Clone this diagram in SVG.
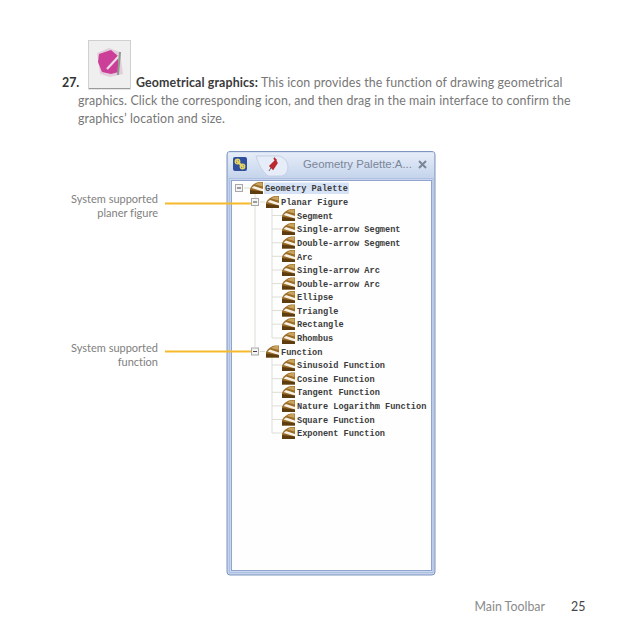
<svg xmlns="http://www.w3.org/2000/svg" width="638" height="638" viewBox="0 0 638 638">
<style>
.b{font-family:"Lato","Open Sans",sans-serif;font-size:12.4px;letter-spacing:.12px;fill:#777;font-variant-ligatures:none}
.s{font-family:"Lato","Open Sans",sans-serif;font-size:11px;fill:#808080;font-variant-ligatures:none}
.t{font-family:"Liberation Mono",monospace;font-size:8.65px;font-weight:700;fill:#3c3c3c;stroke:none}
.tl{stroke:#dcdcd4;stroke-width:1;fill:none}
.lead{stroke:#f5b92c;stroke-width:2;fill:none}
.box{fill:#f4f4f4;stroke:#a8a8a8;stroke-width:1}
.m{stroke:#444;stroke-width:1}
</style>
<defs>
<linearGradient id="head" x1="0" y1="0" x2="0" y2="1"><stop offset="0" stop-color="#e6edf8"/><stop offset="1" stop-color="#c5d4ec"/></linearGradient>
<g id="ic">
<path d="M0 12V6.500Q3 1 9 0H13V12Z" fill="#9a6c28"/>
<path d="M5 2.500Q7 1 9.500 .5H12.500V4.500Z" fill="#c9a45e"/>
<path d="M1.500 6L4 4L13 7V9.500Z" fill="#f8f2e6"/>
<path d="M0 12V8L13 9.500V12Z" fill="#5d3c10"/>
</g>
</defs>
<rect width="638" height="638" fill="#fff"/>

<g id="tool-icon">
<rect x="88.500" y="40.500" width="42" height="48.500" fill="#efefef" stroke="#d0d0d0"/>
<path d="M89 88.500H130" stroke="#9a9a9a" stroke-width="1.200"/>
<path d="M97 53L109 48L120 52L123 74L110 77L100 74Z" fill="#e3cfdc"/>
<path d="M99 54L111 50L118 56L119 72L111 74L102 72L98 62Z" fill="#cc3f98"/>
<path d="M107 69L119 56" stroke="#ecdce6" stroke-width="2.200"/>
<path d="M120 52L118 75" stroke="#8d9a8d" stroke-width="2"/>
</g>

<g id="body-text">
<text x="62" y="87" style="font-family:Lato,sans-serif;font-size:12.4px;font-weight:700;fill:#333">27.</text>
<text x="136" y="87" class="b"><tspan style="font-weight:700;fill:#3a3a3a">Geometrical graphics:</tspan> This icon provides the function of drawing geometrical</text>
<text x="78" y="105" class="b">graphics. Click the corresponding icon, and then drag in the main interface to confirm the</text>
<text x="78" y="123" class="b">graphics’ location and size.</text>
</g>

<g id="palette-window">
<rect x="227" y="151.500" width="208" height="423.500" rx="3" fill="#c4d3ec" stroke="#8095bf" stroke-width="1"/>
<path d="M228 152.500H434V178H228Z" fill="url(#head)"/>
<rect x="229.500" y="178.500" width="203.500" height="394" fill="#c9d7f0" stroke="#aebfe0"/>
<rect x="231.500" y="180.500" width="200" height="390" fill="#fefefe" stroke="#8fa3cc"/>
<rect x="233" y="157" width="14" height="14" rx="2" fill="#2f4f9e"/>
<path d="M236.500 160.500L243.500 167.500" stroke="#e8d560" stroke-width="2"/>
<circle cx="237.500" cy="161.500" r="2.200" fill="none" stroke="#e8d560" stroke-width="1.400"/><circle cx="242.500" cy="166.500" r="2.200" fill="none" stroke="#e8d560" stroke-width="1.400"/>
<path d="M256 156H280Q288 160 288 167Q288 174 282 176H268Q260 170 256 156Z" fill="#e6edf8" stroke="#c4d0e4"/>
<path d="M269 171L272 166" stroke="#666" stroke-width="1"/>
<path d="M270 166L276 160L274 158L277 163L273 169Z" fill="#c0282f" stroke="#b8262e" stroke-width="1.500"/>
<text x="303" y="168" style="font-family:'Liberation Sans',sans-serif;font-size:11.400px;fill:#7a8699">Geometry Palette:A...</text>
<path d="M419 161L426 168M426 161L419 168" stroke="#7a8699" stroke-width="2"/>
</g>

<g id="connectors">
<path class="tl" d="M255 192V347M272 206V338M272 356V433"/>
<path class="tl" d="M244 188H250M260 202H265M260 351.500H265M272 215.500H282M272 229H282M272 242.800H282M272 256.300H282M272 270H282M272 283.600H282M272 297H282M272 310.600H282M272 324.200H282M272 338H282M272 365H282M272 378.700H282M272 392.300H282M272 405.900H282M272 419.500H282M272 433H282"/>
<path class="lead" d="M165 203.500H251M165 351.500H251"/>
</g>

<g id="callout-planar">
<text x="158" y="203" text-anchor="end" class="s">System supported</text>
<text x="158" y="217" text-anchor="end" class="s">planer figure</text>
</g>
<g id="callout-function">
<text x="158" y="352" text-anchor="end" class="s">System supported</text>
<text x="158" y="366" text-anchor="end" class="s">function</text>
</g>

<g id="root"><rect x="235.500" y="184.500" width="7" height="7" class="box"/><path class="m" d="M237 188H241"/><use href="#ic" x="250" y="182"/><rect x="264" y="182.500" width="85" height="11.500" fill="#d6e3f7"/><text x="265" y="191" class="t">Geometry Palette</text></g>
<g id="planar"><rect x="251.500" y="198.500" width="7" height="7" class="box"/><path class="m" d="M253 202H257"/><use href="#ic" x="266" y="196"/><text x="281" y="205" class="t">Planar Figure</text></g>
<g id="n1"><use href="#ic" x="282" y="209"/><text x="297" y="218.500" class="t">Segment</text></g>
<g id="n2"><use href="#ic" x="282" y="223"/><text x="297" y="232" class="t">Single-arrow Segment</text></g>
<g id="n3"><use href="#ic" x="282" y="236.500"/><text x="297" y="246" class="t">Double-arrow Segment</text></g>
<g id="n4"><use href="#ic" x="282" y="250"/><text x="297" y="259.500" class="t">Arc</text></g>
<g id="n5"><use href="#ic" x="282" y="264"/><text x="297" y="273" class="t">Single-arrow Arc</text></g>
<g id="n6"><use href="#ic" x="282" y="277.500"/><text x="297" y="286.500" class="t">Double-arrow Arc</text></g>
<g id="n7"><use href="#ic" x="282" y="291"/><text x="297" y="300" class="t">Ellipse</text></g>
<g id="n8"><use href="#ic" x="282" y="304.500"/><text x="297" y="313.500" class="t">Triangle</text></g>
<g id="n9"><use href="#ic" x="282" y="318"/><text x="297" y="327" class="t">Rectangle</text></g>
<g id="n10"><use href="#ic" x="282" y="332"/><text x="297" y="341" class="t">Rhombus</text></g>
<g id="function"><rect x="251.500" y="348" width="7" height="7" class="box"/><path class="m" d="M253 351.500H257"/><use href="#ic" x="266" y="345.500"/><text x="281" y="354.500" class="t">Function</text></g>
<g id="f1"><use href="#ic" x="282" y="359"/><text x="297" y="368" class="t">Sinusoid Function</text></g>
<g id="f2"><use href="#ic" x="282" y="372.500"/><text x="297" y="381.500" class="t">Cosine Function</text></g>
<g id="f3"><use href="#ic" x="282" y="386"/><text x="297" y="395" class="t">Tangent Function</text></g>
<g id="f4"><use href="#ic" x="282" y="400"/><text x="297" y="409" class="t">Nature Logarithm Function</text></g>
<g id="f5"><use href="#ic" x="282" y="413.500"/><text x="297" y="422.500" class="t">Square Function</text></g>
<g id="f6"><use href="#ic" x="282" y="427"/><text x="297" y="436" class="t">Exponent Function</text></g>

<g id="footer">
<text x="545" y="611" text-anchor="end" class="s" style="font-size:12.400px;fill:#8a8a8a">Main Toolbar</text>
<text x="571" y="611" style="font-family:Lato,sans-serif;font-size:12.400px;fill:#444">25</text>
</g>
</svg>
